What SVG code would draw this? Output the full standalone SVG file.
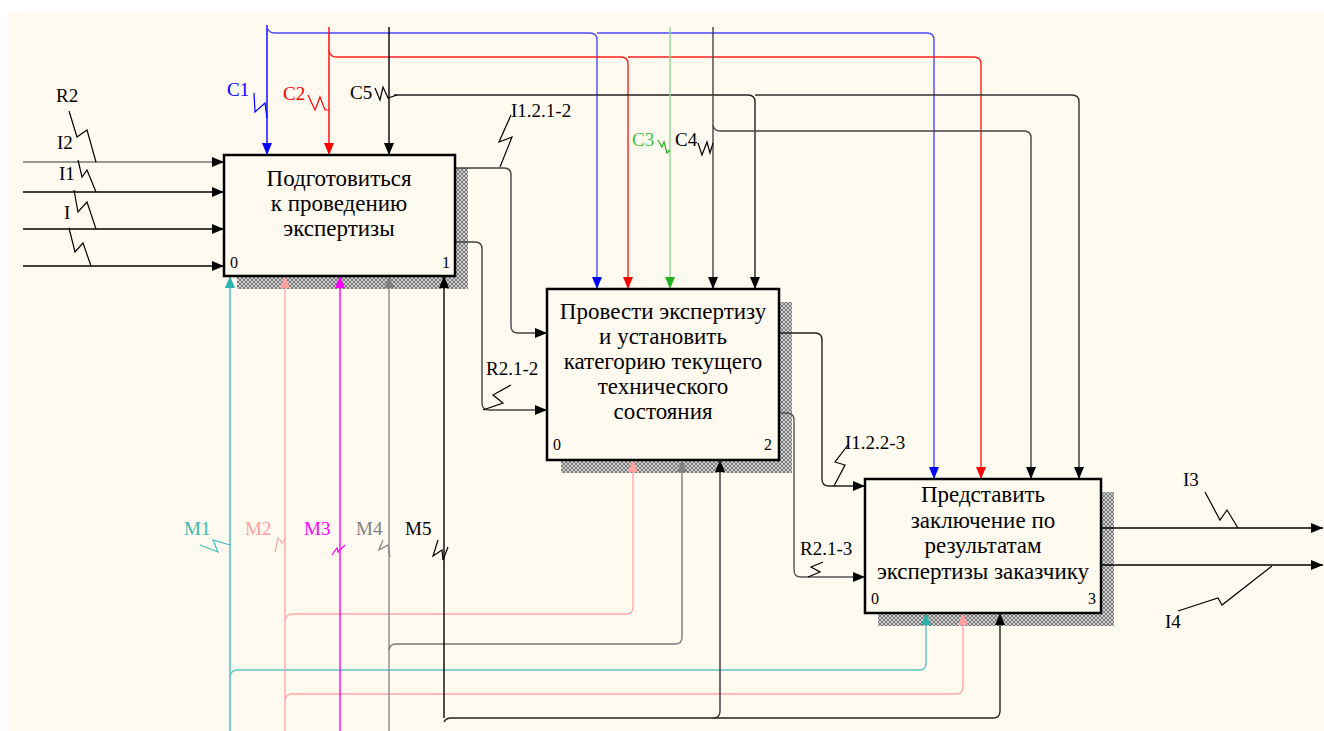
<svg xmlns="http://www.w3.org/2000/svg" width="1324" height="731" viewBox="0 0 1324 731">
<defs>
<style>
.bx{fill:#FFFAF0;stroke:#000;stroke-width:2.5}
.sh{fill:url(#hatch)}
.t{font-family:"Liberation Serif","Times New Roman",serif;font-size:23px;text-anchor:middle;fill:#000}
.n{font-family:"Liberation Serif","Times New Roman",serif;font-size:16px;fill:#000}
.l{font-family:"Liberation Serif","Times New Roman",serif;font-size:19px}
.c{fill:none;stroke-width:1.4}
.sq{fill:none;stroke-width:1.2}
</style>
<pattern id="hatch" width="4" height="4" patternUnits="userSpaceOnUse"><rect width="4" height="4" fill="#cfcfcf"/><path d="M0,4 L4,0 M0,0 L4,4" stroke="#555" stroke-width="0.7"/></pattern>
<marker id="aK" viewBox="0 0 12 10" refX="12" refY="5" markerWidth="12" markerHeight="10" markerUnits="userSpaceOnUse" orient="auto"><path d="M0,0 L12,5 L0,10 z" fill="#000"/></marker>
<marker id="aB" viewBox="0 0 12 10" refX="12" refY="5" markerWidth="12" markerHeight="10" markerUnits="userSpaceOnUse" orient="auto"><path d="M0,0 L12,5 L0,10 z" fill="#0000ff"/></marker>
<marker id="aR" viewBox="0 0 12 10" refX="12" refY="5" markerWidth="12" markerHeight="10" markerUnits="userSpaceOnUse" orient="auto"><path d="M0,0 L12,5 L0,10 z" fill="#ff0000"/></marker>
<marker id="aG" viewBox="0 0 12 10" refX="12" refY="5" markerWidth="12" markerHeight="10" markerUnits="userSpaceOnUse" orient="auto"><path d="M0,0 L12,5 L0,10 z" fill="#22b022"/></marker>
<marker id="aT" viewBox="0 0 12 10" refX="12" refY="5" markerWidth="12" markerHeight="10" markerUnits="userSpaceOnUse" orient="auto"><path d="M0,0 L12,5 L0,10 z" fill="#2fb3ad"/></marker>
<marker id="aP" viewBox="0 0 12 10" refX="12" refY="5" markerWidth="12" markerHeight="10" markerUnits="userSpaceOnUse" orient="auto"><path d="M0,0 L12,5 L0,10 z" fill="#ffa0a0"/></marker>
<marker id="aM" viewBox="0 0 12 10" refX="12" refY="5" markerWidth="12" markerHeight="10" markerUnits="userSpaceOnUse" orient="auto"><path d="M0,0 L12,5 L0,10 z" fill="#ff00ff"/></marker>
<marker id="aY" viewBox="0 0 12 10" refX="12" refY="5" markerWidth="12" markerHeight="10" markerUnits="userSpaceOnUse" orient="auto"><path d="M0,0 L12,5 L0,10 z" fill="#808080"/></marker>
</defs>
<rect x="0" y="0" width="1324" height="731" fill="#fff"/>
<rect x="8" y="12" width="1316" height="719" fill="#FFFAF0"/>

<g id="shadows">
<rect class="sh" x="455" y="168" width="13" height="121"/>
<rect class="sh" x="237" y="276" width="231" height="13"/>
<rect class="sh" x="779" y="302" width="13" height="171"/>
<rect class="sh" x="561" y="460" width="231" height="13"/>
<rect class="sh" x="1101" y="492" width="13" height="134"/>
<rect class="sh" x="878" y="613" width="236" height="13"/>
</g>

<g id="connectors">
<path class="c" stroke="#777" d="M23,162 H224" marker-end="url(#aK)"/>
<path class="c" stroke="#000" d="M23,192 H224" marker-end="url(#aK)"/>
<path class="c" stroke="#000" d="M23,229 H224" marker-end="url(#aK)"/>
<path class="c" stroke="#000" d="M23,266 H224" marker-end="url(#aK)"/>
<path class="c" stroke="#0000ff" d="M267,25 V155" marker-end="url(#aB)"/>
<path class="c" stroke="#4a4aff" d="M267,27 Q268,33 275,33 H590 Q597,33 597,40 V289" marker-end="url(#aB)"/>
<path class="c" stroke="#4a4aff" d="M597,33 H927 Q934,33 934,40 V479" marker-end="url(#aB)"/>
<path class="c" stroke="#ff0000" d="M329,27 V155" marker-end="url(#aR)"/>
<path class="c" stroke="#ff2020" d="M329,50 Q330,57 336,57 H621 Q628,57 628,64 V289" marker-end="url(#aR)"/>
<path class="c" stroke="#ff2020" d="M628,57 H974 Q981,57 981,64 V479" marker-end="url(#aR)"/>
<path class="c" stroke="#000" d="M389,27 V155" marker-end="url(#aK)"/>
<path class="c" stroke="#222" d="M394,95 H748 Q755,95 755,102 V289" marker-end="url(#aK)"/>
<path class="c" stroke="#333" d="M755,95 H1072 Q1079,95 1079,102 V479" marker-end="url(#aK)"/>
<path class="c" stroke="#90d890" d="M670,27 V289" marker-end="url(#aG)"/>
<path class="c" stroke="#444" d="M713,27 V289" marker-end="url(#aK)"/>
<path class="c" stroke="#444" d="M713,125 Q714,131 720,131 H1024 Q1031,131 1031,138 V479" marker-end="url(#aK)"/>
<path class="c" stroke="#444" d="M455,168 H504 Q511,168 511,175 V326 Q511,333 518,333 H547" marker-end="url(#aK)"/>
<path class="c" stroke="#444" d="M455,242 H475 Q482,242 482,249 V403 Q482,410 489,410 H547" marker-end="url(#aK)"/>
<path class="c" stroke="#222" d="M779,333 H815 Q822,333 822,340 V479 Q822,486 829,486 H865" marker-end="url(#aK)"/>
<path class="c" stroke="#555" d="M779,413 H787 Q794,413 794,420 V570 Q794,577 801,577 H865" marker-end="url(#aK)"/>
<path class="c" stroke="#000" d="M1101,528 H1323" marker-end="url(#aK)"/>
<path class="c" stroke="#000" d="M1101,565 H1323" marker-end="url(#aK)"/>
<path class="c" stroke="#40bdb8" d="M230,731 V276" marker-end="url(#aT)"/>
<path class="c" stroke="#60c4c0" d="M230,677 Q231,670 237,670 H919 Q926,670 926,663 V613" marker-end="url(#aT)"/>
<path class="c" stroke="#ffa8a8" d="M285,731 V276" marker-end="url(#aP)"/>
<path class="c" stroke="#ffa8a8" d="M285,621 Q286,614 292,614 H626 Q633,614 633,607 V460" marker-end="url(#aP)"/>
<path class="c" stroke="#ffa8a8" d="M285,700 Q286,694 292,694 H956 Q963,694 963,687 V613" marker-end="url(#aP)"/>
<path class="c" stroke="#ff00ff" d="M340,731 V276" marker-end="url(#aM)"/>
<path class="c" stroke="#888" d="M389,731 V276" marker-end="url(#aY)"/>
<path class="c" stroke="#777" d="M389,650 Q390,644 396,644 H675 Q682,644 682,637 V460" marker-end="url(#aY)"/>
<path class="c" stroke="#000" d="M444,718 V276" marker-end="url(#aK)"/>
<path class="c" stroke="#222" d="M444,722 Q446,718 451,718 H993 Q1000,718 1000,711 V613" marker-end="url(#aK)"/>
<path class="c" stroke="#333" d="M713,718 Q720,718 720,711 V460" marker-end="url(#aK)"/>
</g>

<g id="squiggles">
<path class="sq" stroke="#000" d="M69,111 L77,137 L87,130 L96,162"/>
<path class="sq" stroke="#000" d="M78,160 L82,177 L87,170 L96,192"/>
<path class="sq" stroke="#000" d="M74,190 L78,212 L87,202 L96,229"/>
<path class="sq" stroke="#000" d="M69,228 L75,252 L83,243 L91,266"/>
<path class="sq" stroke="#0000ff" d="M254,93 L255,112 L265,103 L267,118"/>
<path class="sq" stroke="#ff0000" d="M308,95 L315,110 L320,97 L325,110 L329,110"/>
<path class="sq" stroke="#000" d="M375,88 L380,100 L383,87 L388,98 L397,95"/>
<path class="sq" stroke="#22b022" d="M658,140 L662,147 L664,142 L667,153 L670,150"/>
<path class="sq" stroke="#000" d="M698,143 L702,155 L707,142 L710,153 L713,143"/>
<path class="sq" stroke="#000" d="M511,115 L499,142 L512,137 L500,167"/>
<path class="sq" stroke="#000" d="M511,385 L493,395 L503,403 L483,410"/>
<path class="sq" stroke="#000" d="M848,445 L835,462 L845,465 L834,486"/>
<path class="sq" stroke="#000" d="M823,562 L811,567 L820,572 L808,577"/>
<path class="sq" stroke="#000" d="M1205,492 L1220,520 L1227,510 L1238,528"/>
<path class="sq" stroke="#000" d="M1178,611 L1218,598 L1222,605 L1272,566"/>
<path class="sq" stroke="#40bdb8" d="M200,545 L218,552 L213,540 L230,545"/>
<path class="sq" stroke="#ffa0a0" d="M275,552 L278,538 L282,543 L286,538"/>
<path class="sq" stroke="#ff00ff" d="M332,555 L337,548 L338,552 L345,545"/>
<path class="sq" stroke="#808080" d="M383,540 L379,550 L388,545 L390,557"/>
<path class="sq" stroke="#000" d="M438,540 L433,556 L442,550 L443,560 L448,547"/>
</g>

<g id="labels">
<text class="l" x="56" y="102" fill="#000">R2</text>
<text class="l" x="57" y="149" fill="#000">I2</text>
<text class="l" x="59" y="180" fill="#000">I1</text>
<text class="l" x="64" y="219" fill="#000">I</text>
<text class="l" x="227" y="96" fill="#0000ff">C1</text>
<text class="l" x="283" y="100" fill="#ff0000">C2</text>
<text class="l" x="350" y="99" fill="#000">C5</text>
<text class="l" x="632" y="146" fill="#44c044">C3</text>
<text class="l" x="675" y="146" fill="#000">C4</text>
<text class="l" x="511" y="117" fill="#000">I1.2.1-2</text>
<text class="l" x="486" y="375" fill="#000">R2.1-2</text>
<text class="l" x="845" y="449" fill="#000">I1.2.2-3</text>
<text class="l" x="800" y="555" fill="#000">R2.1-3</text>
<text class="l" x="1183" y="486" fill="#000">I3</text>
<text class="l" x="1165" y="628" fill="#000">I4</text>
<text class="l" x="184" y="535" fill="#3fb5b0">M1</text>
<text class="l" x="245" y="535" fill="#ffa0a0">M2</text>
<text class="l" x="304" y="535" fill="#ff00ff">M3</text>
<text class="l" x="356" y="535" fill="#808080">M4</text>
<text class="l" x="405" y="535" fill="#000">M5</text>
</g>

<g id="box1">
<rect class="bx" x="224" y="155" width="231" height="121"/>
<text class="t" x="339" y="186">Подготовиться</text>
<text class="t" x="339" y="211">к проведению</text>
<text class="t" x="339" y="236">экспертизы</text>
<text class="n" x="230" y="268">0</text>
<text class="n" x="442" y="268">1</text>
</g>
<g id="box2">
<rect class="bx" x="547" y="289" width="232" height="171"/>
<text class="t" x="663" y="319">Провести экспертизу</text>
<text class="t" x="663" y="344">и установить</text>
<text class="t" x="663" y="369">категорию текущего</text>
<text class="t" x="663" y="394">технического</text>
<text class="t" x="663" y="419">состояния</text>
<text class="n" x="553" y="450">0</text>
<text class="n" x="764" y="450">2</text>
</g>
<g id="box3">
<rect class="bx" x="865" y="479" width="236" height="134"/>
<text class="t" x="983" y="502">Представить</text>
<text class="t" x="983" y="528">заключение по</text>
<text class="t" x="983" y="553">результатам</text>
<text class="t" x="983" y="579">экспертизы заказчику</text>
<text class="n" x="871" y="604">0</text>
<text class="n" x="1088" y="604">3</text>
</g>
</svg>
